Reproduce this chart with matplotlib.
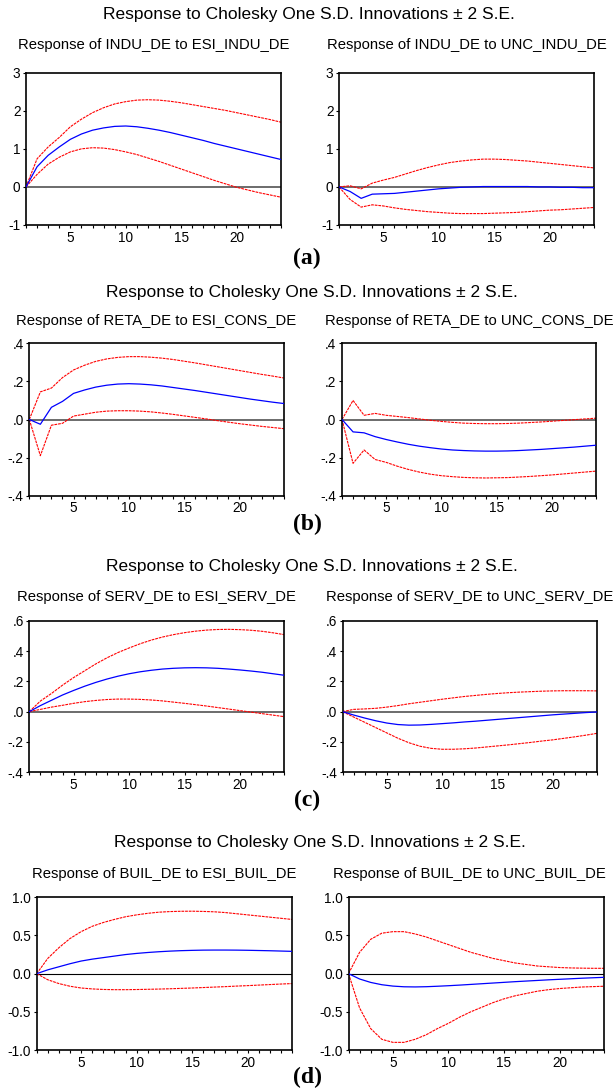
import numpy as np
import matplotlib
matplotlib.use("Agg")
import matplotlib.pyplot as plt
from matplotlib.ticker import FixedLocator, MultipleLocator

# ------------------------------------------------------------------------------
# impulse responses, periods 1..24 (response, lower band, upper band)
periods = np.arange(1, 25)

# (a) INDU_DE
indu_esi = [0, 0.53, 0.83, 1.05, 1.25, 1.39, 1.49, 1.55, 1.59, 1.60, 1.58, 1.54,
            1.49, 1.43, 1.36, 1.29, 1.22, 1.14, 1.07, 1.00, 0.93, 0.86, 0.79, 0.72]
indu_esi_lo = [0, 0.33, 0.60, 0.78, 0.92, 1.00, 1.03, 1.02, 0.98, 0.92, 0.85, 0.76,
               0.67, 0.57, 0.47, 0.37, 0.27, 0.17, 0.08, -0.01, -0.08, -0.15, -0.21, -0.27]
indu_esi_hi = [0, 0.74, 1.05, 1.30, 1.58, 1.78, 1.95, 2.08, 2.18, 2.24, 2.28, 2.29,
               2.28, 2.25, 2.21, 2.16, 2.11, 2.06, 2.01, 1.95, 1.89, 1.83, 1.77, 1.70]
indu_unc = [0, -0.12, -0.30, -0.19, -0.18, -0.17, -0.14, -0.11, -0.08, -0.05, -0.03, -0.01,
            0.00, 0.01, 0.01, 0.01, 0.01, 0.01, 0.00, 0.00, -0.01, -0.01, -0.02, -0.02]
indu_unc_lo = [0, -0.33, -0.53, -0.47, -0.50, -0.55, -0.59, -0.62, -0.65, -0.67, -0.69, -0.70,
               -0.70, -0.70, -0.69, -0.68, -0.67, -0.65, -0.63, -0.61, -0.60, -0.58, -0.56, -0.54]
indu_unc_hi = [0, 0.03, -0.05, 0.10, 0.18, 0.25, 0.34, 0.43, 0.51, 0.58, 0.64, 0.68,
               0.71, 0.73, 0.73, 0.72, 0.70, 0.68, 0.65, 0.62, 0.59, 0.56, 0.53, 0.50]

# (b) RETA_DE
reta_esi = [0, -0.025, 0.064, 0.095, 0.137, 0.155, 0.170, 0.180, 0.186, 0.188, 0.186, 0.182,
            0.176, 0.168, 0.160, 0.152, 0.143, 0.134, 0.125, 0.116, 0.107, 0.099, 0.091, 0.084]
reta_esi_lo = [0, -0.19, -0.03, -0.02, 0.018, 0.028, 0.038, 0.044, 0.046, 0.046, 0.044, 0.040,
               0.034, 0.027, 0.019, 0.011, 0.003, -0.006, -0.014, -0.022, -0.029, -0.036, -0.042, -0.048]
reta_esi_hi = [0, 0.145, 0.165, 0.220, 0.260, 0.285, 0.305, 0.318, 0.326, 0.330, 0.330, 0.327,
               0.322, 0.315, 0.306, 0.297, 0.287, 0.277, 0.267, 0.257, 0.247, 0.237, 0.228, 0.218]
reta_unc = [0, -0.065, -0.070, -0.090, -0.105, -0.118, -0.130, -0.140, -0.148, -0.155, -0.160, -0.163,
            -0.165, -0.166, -0.166, -0.165, -0.163, -0.160, -0.157, -0.153, -0.149, -0.145, -0.140, -0.135]
reta_unc_lo = [0, -0.23, -0.16, -0.21, -0.225, -0.245, -0.262, -0.276, -0.287, -0.295, -0.300, -0.304,
               -0.306, -0.307, -0.306, -0.305, -0.302, -0.299, -0.295, -0.291, -0.286, -0.281, -0.276, -0.271]
reta_unc_hi = [0, 0.10, 0.022, 0.032, 0.022, 0.016, 0.010, 0.003, -0.004, -0.010, -0.015, -0.019,
               -0.021, -0.022, -0.022, -0.021, -0.019, -0.016, -0.013, -0.009, -0.005, -0.001, 0.003, 0.007]

# (c) SERV_DE
serv_esi = [0, 0.040, 0.075, 0.110, 0.140, 0.168, 0.193, 0.215, 0.234, 0.250, 0.263, 0.273,
            0.281, 0.286, 0.289, 0.290, 0.289, 0.286, 0.281, 0.275, 0.268, 0.260, 0.250, 0.240]
serv_esi_lo = [0, 0.015, 0.030, 0.042, 0.055, 0.066, 0.074, 0.080, 0.083, 0.083, 0.081, 0.077,
               0.071, 0.063, 0.055, 0.046, 0.037, 0.027, 0.017, 0.007, -0.003, -0.013, -0.023, -0.033]
serv_esi_hi = [0, 0.070, 0.120, 0.175, 0.225, 0.270, 0.315, 0.355, 0.390, 0.420, 0.448, 0.472,
               0.492, 0.508, 0.521, 0.531, 0.538, 0.542, 0.543, 0.541, 0.537, 0.530, 0.520, 0.508]
serv_unc = [0, -0.022, -0.042, -0.060, -0.075, -0.085, -0.089, -0.088, -0.084, -0.079, -0.074, -0.068,
            -0.063, -0.057, -0.051, -0.045, -0.039, -0.033, -0.027, -0.021, -0.016, -0.011, -0.006, -0.002]
serv_unc_lo = [0, -0.035, -0.070, -0.105, -0.140, -0.175, -0.205, -0.228, -0.242, -0.248, -0.248, -0.245,
               -0.240, -0.233, -0.226, -0.219, -0.211, -0.203, -0.194, -0.186, -0.176, -0.166, -0.155, -0.143]
serv_unc_hi = [0, 0.015, 0.018, 0.022, 0.030, 0.040, 0.052, 0.062, 0.072, 0.082, 0.091, 0.100,
               0.107, 0.114, 0.120, 0.125, 0.129, 0.132, 0.135, 0.137, 0.138, 0.138, 0.138, 0.137]

# (d) BUIL_DE
buil_esi = [0, 0.050, 0.090, 0.130, 0.165, 0.190, 0.210, 0.230, 0.250, 0.265, 0.277, 0.287,
            0.295, 0.301, 0.305, 0.308, 0.309, 0.309, 0.308, 0.306, 0.303, 0.300, 0.296, 0.292]
buil_esi_lo = [0, -0.08, -0.13, -0.165, -0.188, -0.200, -0.207, -0.210, -0.210, -0.208, -0.205, -0.202,
               -0.198, -0.193, -0.188, -0.182, -0.176, -0.170, -0.163, -0.157, -0.150, -0.143, -0.136, -0.130]
buil_esi_hi = [0, 0.20, 0.34, 0.46, 0.55, 0.62, 0.67, 0.71, 0.745, 0.77, 0.79, 0.805,
               0.813, 0.817, 0.818, 0.815, 0.810, 0.800, 0.785, 0.770, 0.755, 0.740, 0.725, 0.710]
buil_unc = [0, -0.070, -0.115, -0.145, -0.163, -0.172, -0.174, -0.171, -0.165, -0.158, -0.150, -0.141,
            -0.132, -0.123, -0.114, -0.105, -0.097, -0.089, -0.081, -0.074, -0.067, -0.060, -0.054, -0.048]
buil_unc_lo = [0, -0.45, -0.72, -0.86, -0.90, -0.90, -0.86, -0.80, -0.72, -0.65, -0.57, -0.50,
               -0.44, -0.38, -0.33, -0.29, -0.26, -0.23, -0.21, -0.195, -0.185, -0.175, -0.170, -0.165]
buil_unc_hi = [0, 0.28, 0.45, 0.53, 0.55, 0.55, 0.52, 0.48, 0.43, 0.38, 0.33, 0.28,
               0.24, 0.20, 0.17, 0.14, 0.12, 0.10, 0.09, 0.08, 0.075, 0.072, 0.070, 0.070]

# y axis setup per block
yticks_a = [-1, 0, 1, 2, 3]
ylabels_a = ["-1", "0", "1", "2", "3"]
yticks_b = [-0.4, -0.2, 0.0, 0.2, 0.4]
ylabels_b = ["-.4", "-.2", ".0", ".2", ".4"]
yticks_c = [-0.4, -0.2, 0.0, 0.2, 0.4, 0.6]
ylabels_c = ["-.4", "-.2", ".0", ".2", ".4", ".6"]
yticks_d = [-1.0, -0.5, 0.0, 0.5, 1.0]
ylabels_d = ["-1.0", "-0.5", "0.0", "0.5", "1.0"]

W, H = 614, 1091
FONT = "Liberation Sans"
SUPTITLE = "Response to Cholesky One S.D. Innovations \u00b1 2 S.E."


def px_axes(fig, x0, x1, y0, y1):
    # pixel box (top-left origin) -> figure fraction
    return fig.add_axes([x0 / W, 1 - y1 / H, (x1 - x0) / W, (y1 - y0) / H])


def draw_irf(ax, resp, lo, hi, yticks, ylabels, zero_color, zero_lw):
    ax.axhline(0, color=zero_color, lw=zero_lw, zorder=1)
    ax.plot(periods, hi, color="#ff0000", lw=0.8, dashes=(2.5, 0.8), zorder=2)
    ax.plot(periods, lo, color="#ff0000", lw=0.8, dashes=(2.5, 0.8), zorder=2)
    ax.plot(periods, resp, color="#0000ff", lw=0.9, zorder=3)

    ax.set_xlim(1, 24)
    ax.set_ylim(yticks[0], yticks[-1])
    ax.xaxis.set_major_locator(FixedLocator([5, 10, 15, 20]))
    ax.xaxis.set_minor_locator(MultipleLocator(1))
    ax.set_yticks(yticks)
    ax.set_yticklabels(ylabels)
    ax.tick_params(axis="both", which="both", direction="out", length=2.5, width=0.8,
                   labelsize=9.8, pad=1.5, colors="black")
    for lab in ax.get_xticklabels() + ax.get_yticklabels():
        lab.set_fontfamily(FONT)
    for s in ax.spines.values():
        s.set_linewidth(1.2)
        s.set_color("black")


fig = plt.figure(figsize=(W / 100, H / 100), dpi=100)

blocks = [
    # letter, suptitle y, subtitle y, axes top/bottom, left/right x span, letter y, suptitle x
    ("(a)", 15, 45, 72.7, 225.0, (26, 281), (339, 594), 258, 309,
     [(indu_esi, indu_esi_lo, indu_esi_hi, "Response of INDU_DE to ESI_INDU_DE"),
      (indu_unc, indu_unc_lo, indu_unc_hi, "Response of INDU_DE to UNC_INDU_DE")],
     yticks_a, ylabels_a, "#606060", 1.3),
    ("(b)", 292, 320.7, 343.3, 495.7, (29.3, 283.7), (342, 596), 524, 312,
     [(reta_esi, reta_esi_lo, reta_esi_hi, "Response of RETA_DE to ESI_CONS_DE"),
      (reta_unc, reta_unc_lo, reta_unc_hi, "Response of RETA_DE to UNC_CONS_DE")],
     yticks_b, ylabels_b, "#606060", 1.3),
    ("(c)", 567, 596.7, 620.7, 772.3, (29.3, 284.3), (342.5, 597), 800, 312,
     [(serv_esi, serv_esi_lo, serv_esi_hi, "Response of SERV_DE to ESI_SERV_DE"),
      (serv_unc, serv_unc_lo, serv_unc_hi, "Response of SERV_DE to UNC_SERV_DE")],
     yticks_c, ylabels_c, "#606060", 1.3),
    ("(d)", 843, 874, 897.3, 1050.0, (36.7, 292), (348.5, 604), 1077, 320,
     [(buil_esi, buil_esi_lo, buil_esi_hi, "Response of BUIL_DE to ESI_BUIL_DE"),
      (buil_unc, buil_unc_lo, buil_unc_hi, "Response of BUIL_DE to UNC_BUIL_DE")],
     yticks_d, ylabels_d, "black", 0.8),
]

for letter, sup_y, sub_y, top, bot, lx, rx, let_y, sup_x, series, yt, yl, zc, zlw in blocks:
    fig.text(sup_x / W, 1 - sup_y / H, SUPTITLE, ha="center", va="center",
             fontsize=12.5, family=FONT)
    for (x0, x1), (resp, lo, hi, title) in zip([lx, rx], series):
        ax = px_axes(fig, x0, x1, top, bot)
        draw_irf(ax, resp, lo, hi, yt, yl, zc, zlw)
        # keep the right-hand subtitle inside the figure edge
        cx = min((x0 + x1) / 2, W - 2 - 0.5 * 15.0 * len(title) * 0.56)
        fig.text(cx / W, 1 - sub_y / H, title, ha="center", va="center",
                 fontsize=10.7, family=FONT)
    fig.text(307 / W, 1 - let_y / H, letter, ha="center", va="center",
             fontsize=17, fontweight="bold", family="Liberation Serif")

fig.savefig("out.png", dpi=100)
